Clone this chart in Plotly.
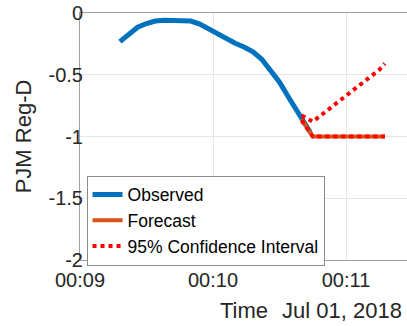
import pandas as pd
import plotly.graph_objects as go

# Seconds after 00:09:00 on Jul 01, 2018
obs_sec = [18, 22, 26, 30, 34, 38, 42, 46, 50, 54, 58, 62, 66, 70, 74, 78, 82, 86, 90, 94, 98, 102, 104]
obs_val = [-0.232, -0.17, -0.115, -0.085, -0.065, -0.058, -0.058, -0.06, -0.065, -0.09, -0.13,
           -0.165, -0.21, -0.245, -0.275, -0.315, -0.375, -0.46, -0.56, -0.68, -0.80, -0.91, -0.97]

fc_sec = [100, 105, 110, 115, 120, 125, 130, 135, 137.5]
fc_val = [-0.86, -1.0, -1.0, -1.0, -1.0, -1.0, -1.0, -1.0, -1.0]
ci_upper = [-0.83, -0.88, -0.81, -0.74, -0.67, -0.60, -0.53, -0.46, -0.41]
ci_lower = [-0.87, -1.0, -1.0, -1.0, -1.0, -1.0, -1.0, -1.0, -1.0]

x_ticks = ["00:09", "00:10", "00:11"]
base = pd.Timestamp("2018-07-01 00:09:00")


def to_time(secs):
    return [base + pd.Timedelta(seconds=s) for s in secs]


font = "Liberation Sans, Arial, sans-serif"
fig = go.Figure()
fig.add_trace(go.Scatter(x=to_time(obs_sec), y=obs_val, mode="lines", name="Observed",
                         line=dict(color="#0072BD", width=5)))
fig.add_trace(go.Scatter(x=to_time(fc_sec), y=fc_val, mode="lines", name="Forecast",
                         line=dict(color="#D95319", width=4)))
fig.add_trace(go.Scatter(x=to_time(fc_sec), y=ci_upper, mode="lines", name="95% Confidence Interval",
                         line=dict(color="#FF0000", width=4, dash="4px,4px")))
fig.add_trace(go.Scatter(x=to_time(fc_sec), y=ci_lower, mode="lines", showlegend=False,
                         line=dict(color="#FF0000", width=4, dash="4px,4px")))

tick_vals = [pd.Timestamp("2018-07-01 " + t) for t in x_ticks]
fig.update_layout(
    width=407, height=326,
    margin=dict(l=80, r=0, t=13, b=66),
    paper_bgcolor="white", plot_bgcolor="white",
    font=dict(family=font, size=20, color="#262626"),
    showlegend=True,
    legend=dict(x=0.02, y=0.342, xanchor="left", yanchor="top",
                bgcolor="white", bordercolor="#8c8c8c", borderwidth=1,
                font=dict(size=17.5, color="#000000"), itemwidth=30, tracegroupgap=0),
    xaxis=dict(range=[base, base + pd.Timedelta(seconds=147.5)],
               tickvals=tick_vals, ticktext=x_ticks, showgrid=True, gridcolor="#e6e6e6",
               showline=True, linecolor="#a0a0a0", mirror=True, zeroline=False,
               ticks="", ticklabelstandoff=2, tickfont=dict(size=20, color="#262626")),
    yaxis=dict(range=[-2, 0], tickvals=[0, -0.5, -1, -1.5, -2],
               ticktext=["0", "-0.5", "-1", "-1.5", "-2"], showgrid=True, gridcolor="#e6e6e6",
               showline=True, linecolor="#a0a0a0", zeroline=False, ticks="",
               ticklabelstandoff=-8,
               tickfont=dict(size=20, color="#262626"),
               title=dict(text="PJM Reg-D", font=dict(size=22, color="#262626"), standoff=10)),
)
fig.add_annotation(text="Time", xref="paper", yref="paper", x=0.5, y=-0.205,
                   xanchor="center", yanchor="middle", showarrow=False,
                   font=dict(size=22, color="#262626"))
fig.add_annotation(text="Jul 01, 2018", xref="paper", yref="paper", x=0.99, y=-0.205,
                   xanchor="right", yanchor="middle", showarrow=False,
                   font=dict(size=22, color="#262626"))
fig.write_html("out.html")
